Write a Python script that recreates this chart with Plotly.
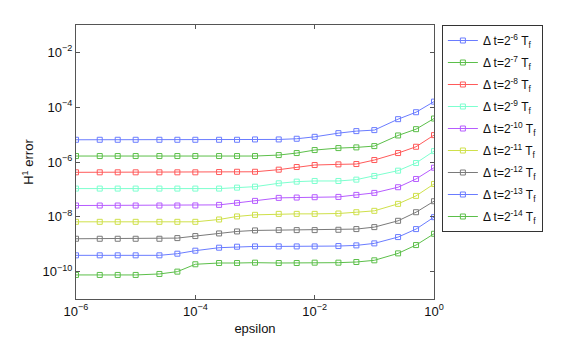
import plotly.graph_objects as go

epsilon = [1e-6, 2.5e-6, 5e-6, 1e-5, 2.5e-5, 5e-5, 1e-4, 2.5e-4, 5e-4, 1e-3,
           2.5e-3, 5e-3, 1e-2, 2.5e-2, 5e-2, 1e-1, 2.5e-1, 5e-1, 1.0]

dt_exponents = [-6, -7, -8, -9, -10, -11, -12, -13, -14]

err_dt6 = [6.47e-6, 6.47e-6, 6.47e-6, 6.47e-6, 6.47e-6, 6.47e-6, 6.47e-6, 6.47e-6, 6.47e-6, 6.65e-6,
           6.65e-6, 7.05e-6, 8.3e-6, 1.13e-5, 1.34e-5, 1.46e-5, 3.66e-5, 6.56e-5, 1.6e-4]
err_dt7 = [1.65e-6, 1.65e-6, 1.65e-6, 1.65e-6, 1.65e-6, 1.65e-6, 1.65e-6, 1.65e-6, 1.65e-6, 1.65e-6,
           1.79e-6, 2.12e-6, 2.73e-6, 3.22e-6, 3.41e-6, 3.81e-6, 9.3e-6, 1.58e-5, 3.86e-5]
err_dt8 = [4.2e-7, 4.2e-7, 4.2e-7, 4.2e-7, 4.2e-7, 4.2e-7, 4.2e-7, 4.3e-7, 4.4e-7, 4.4e-7,
           5.25e-7, 6.56e-7, 7.76e-7, 8.2e-7, 8.43e-7, 1.18e-6, 2.12e-6, 3.6e-6, 9.57e-6]
err_dt9 = [1.07e-7, 1.07e-7, 1.07e-7, 1.07e-7, 1.07e-7, 1.07e-7, 1.07e-7, 1.07e-7, 1.16e-7, 1.26e-7,
           1.67e-7, 1.92e-7, 2.03e-7, 2.03e-7, 2.27e-7, 3.09e-7, 4.83e-7, 9.18e-7, 2.5e-6]
err_dt10 = [2.58e-8, 2.58e-8, 2.58e-8, 2.58e-8, 2.58e-8, 2.58e-8, 2.6e-8, 2.72e-8, 3.22e-8, 3.81e-8,
            4.9e-8, 5.04e-8, 5.18e-8, 5.32e-8, 6.3e-8, 7.45e-8, 1.2e-7, 2.4e-7, 6.2e-7]
err_dt11 = [6.56e-9, 6.56e-9, 6.56e-9, 6.56e-9, 6.56e-9, 6.56e-9, 6.56e-9, 7.98e-9, 1.03e-8, 1.18e-8,
            1.28e-8, 1.28e-8, 1.28e-8, 1.32e-8, 1.47e-8, 1.65e-8, 2.97e-8, 5.8e-8, 1.58e-7]
err_dt12 = [1.58e-9, 1.58e-9, 1.58e-9, 1.58e-9, 1.58e-9, 1.67e-9, 1.98e-9, 2.47e-9, 2.92e-9, 3.18e-9,
            3.27e-9, 3.27e-9, 3.27e-9, 3.36e-9, 3.56e-9, 4.2e-9, 7.14e-9, 1.47e-8, 3.7e-8]
err_dt13 = [3.92e-10, 3.92e-10, 3.92e-10, 3.92e-10, 3.92e-10, 4.5e-10, 5.8e-10, 7.45e-10, 8.1e-10, 8.3e-10,
            8.3e-10, 8.3e-10, 8.3e-10, 8.55e-10, 9.05e-10, 1.07e-9, 1.82e-9, 3.56e-9, 9.7e-9]
err_dt14 = [7.55e-11, 7.55e-11, 7.55e-11, 7.55e-11, 8.2e-11, 9.97e-11, 1.85e-10, 2.06e-10, 2.06e-10, 2.12e-10,
            2.06e-10, 2.06e-10, 2.12e-10, 2.12e-10, 2.24e-10, 2.58e-10, 4.63e-10, 9.3e-10, 2.4e-9]

series = [err_dt6, err_dt7, err_dt8, err_dt9, err_dt10, err_dt11, err_dt12, err_dt13, err_dt14]
colors = ["#6a7cff", "#5cbf4a", "#ff5a5a", "#7dffcf", "#b65cff", "#cfe04a", "#7a7a7a", "#6a7cff", "#5cbf4a"]

x_tickvals = [1e-6, 1e-4, 1e-2, 1]
x_ticktext = ["10<sup>−6</sup>", "10<sup>−4</sup>", "10<sup>−2</sup>", "10<sup>0</sup>"]
y_tickvals = [1e-10, 1e-8, 1e-6, 1e-4, 1e-2]
y_ticktext = ["10<sup>−10</sup>", "10<sup>−8</sup>", "10<sup>−6</sup>", "10<sup>−4</sup>", "10<sup>−2</sup>"]

fig = go.Figure()
for i, (exp, vals, col) in enumerate(zip(dt_exponents, series, colors)):
    fig.add_trace(go.Scatter(
        x=epsilon, y=vals, mode="lines+markers",
        name=f"Δ t=2<sup>{exp}</sup> T<sub>f</sub>",
        legendgroup=f"g{i}",
        line=dict(color=col, width=1),
        marker=dict(symbol="square-open", size=5, color=col, line=dict(width=1)),
    ))

axis_common = dict(
    showgrid=False, zeroline=False, showline=True, mirror="ticks",
    linecolor="#555555", linewidth=1, ticks="inside", ticklen=4,
    tickcolor="#555555", tickfont=dict(size=13, color="#111111"),
    automargin=False,
)

# page body has an 8px default margin, so the figure is sized/offset to compensate
fig.update_layout(
    width=578, height=329,
    margin=dict(l=68, r=152, t=17, b=38, autoexpand=False),
    paper_bgcolor="white", plot_bgcolor="white",
    font=dict(family="Liberation Sans, Arial, sans-serif", color="#111111"),
    xaxis=dict(type="log", range=[-6, 0], tickvals=x_tickvals, ticktext=x_ticktext,
               title=dict(text="epsilon", font=dict(size=13), standoff=6), **axis_common),
    yaxis=dict(type="log", range=[-11, -1], tickvals=y_tickvals, ticktext=y_ticktext,
               title=dict(text="H<sup>1</sup> error", font=dict(size=13), standoff=5), **axis_common),
    legend=dict(x=1.022, y=1.0, xanchor="left", yanchor="top",
                bordercolor="#333333", borderwidth=1, bgcolor="white",
                font=dict(size=12), tracegroupgap=3, itemwidth=30),
    showlegend=True,
)

fig.write_html("out.html")
